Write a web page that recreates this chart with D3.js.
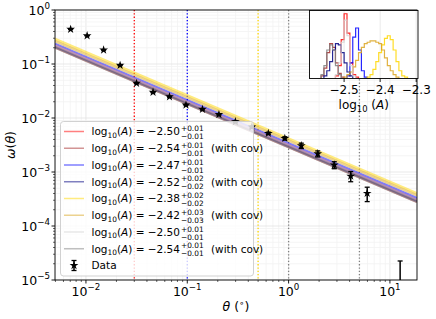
<!DOCTYPE html>
<html><head><meta charset="utf-8">
<script src="https://cdn.jsdelivr.net/npm/d3@7"></script>
<style>body{margin:0;background:#fff}svg{display:block;font-family:"DejaVu Sans",sans-serif}</style>
</head><body><svg id="c" width="436" height="319"></svg>
<script>
// ---------- data ----------
const theta = [0.00706, 0.01027, 0.01494, 0.02173, 0.03158, 0.04592, 0.06677, 0.0971, 0.1412, 0.2053,
  0.2985, 0.434, 0.6312, 0.918, 1.334, 1.94, 2.822, 4.103, 5.966, 8.675, 12.61];
const omega = [0.44, 0.334, 0.182, 0.0946, 0.044, 0.030, 0.0248, 0.0174, 0.0145, 0.0116,
  0.00853, 0.0068, 0.0052, 0.0042, 0.00307, 0.00218, 0.00135, 0.00084, 0.000403, -0.00012, -0.00001];
const omegaErr = [0.002, 0.002, 0.0015, 0.001, 0.0008, 0.0006, 0.0005, 0.0004, 0.0004, 0.0003,
  0.0003, 0.0003, 0.00025, 0.0003, 0.00035, 0.00028, 0.0002, 0.00018, 0.00012, 0.00008, 0.0000325];

const fitLogA = [-2.50, -2.54, -2.47, -2.52, -2.38, -2.42, -2.50, -2.54];
const fitLabel = ["−2.50", "−2.54", "−2.47", "−2.52", "−2.38", "−2.42", "−2.50", "−2.54"];
const fitErrUp = ["+0.01", "+0.01", "+0.01", "+0.02", "+0.02", "+0.03", "+0.01", "+0.01"];
const fitErrDn = ["−0.01", "−0.01", "−0.01", "−0.02", "−0.02", "−0.03", "−0.01", "−0.01"];
const fitCov = [false, true, false, true, false, true, false, true];
const fitColor = ["red", "brown", "blue", "navy", "gold", "goldenrod", "lightgray", "gray"];
const powerSlope = -0.8;

const cutTheta = [0.03, 0.1, 0.5, 1, 5];
const cutColor = ["red", "blue", "gold", "gray", "gray"];

const xTickExp = ["−2", "−1", "0", "1"];
const xTickVal = [1e-2, 1e-1, 1, 10];
const yTickExp = ["0", "−1", "−2", "−3", "−4", "−5"];
const yTickVal = [1, 1e-1, 1e-2, 1e-3, 1e-4, 1e-5];

// inset histograms (bin edges: binStart + k*binWidth)
const binStart = -2.596, binWidth = 0.008;
const histFirstBin = [9, 4, 13, 5, 20, 12, 9, 4];
const histCounts = [
  [2, 10, 30, 50, 35, 12, 3, 1],
  [2, 8, 20, 27, 24, 12, 4, 1],
  [2, 12, 32, 39, 22, 6, 1],
  [2, 6, 13, 22, 27, 26, 20, 12, 5, 2],
  [1, 3, 7, 13, 20, 26, 31, 33, 30, 22, 13, 6, 2, 1],
  [1, 3, 5, 9, 14, 20, 24, 27, 28, 29, 29, 28, 27, 22, 16, 10, 6, 3, 1],
  [3, 12, 28, 45, 33, 10, 2],
  [3, 10, 22, 26, 22, 10, 3]
];
const insetTicks = [-2.5, -2.4, -2.3];
const insetTickLabels = ["−2.5", "−2.4", "−2.3"];

// ---------- chart ----------
const svg = d3.select("#c");
const P = {l: 55, r: 417, t: 10, b: 280};
const x = d3.scaleLog().domain([0.00495, 18.5]).range([P.l, P.r]);
const y = d3.scaleLog().domain([1e-5, 1]).range([P.b, P.t]);

svg.append("rect").attr("width", 436).attr("height", 319).attr("fill", "#fff");
svg.append("defs").append("clipPath").attr("id", "clip")
  .append("rect").attr("x", P.l).attr("y", P.t).attr("width", P.r - P.l).attr("height", P.b - P.t);

const grid = svg.append("g");
const xt = x.ticks(), yt = y.ticks();
const isMajor = v => Math.abs(Math.log10(v) - Math.round(Math.log10(v))) < 1e-6;
xt.forEach(v => grid.append("line").attr("x1", x(v)).attr("x2", x(v)).attr("y1", P.t).attr("y2", P.b)
  .attr("stroke", isMajor(v) ? "#e3e3e3" : "#f3f3f3").attr("stroke-width", 0.8));
yt.forEach(v => grid.append("line").attr("y1", y(v)).attr("y2", y(v)).attr("x1", P.l).attr("x2", P.r)
  .attr("stroke", isMajor(v) ? "#e3e3e3" : "#f3f3f3").attr("stroke-width", 0.8));

const plot = svg.append("g").attr("clip-path", "url(#clip)");

// vertical cut lines
cutTheta.forEach((t, i) => plot.append("line").attr("x1", x(t)).attr("x2", x(t)).attr("y1", P.t).attr("y2", P.b)
  .attr("stroke", cutColor[i]).attr("stroke-width", 1.3).attr("stroke-dasharray", "1.3,2"));

// fit lines
const lineGen = d3.line().x(d => x(d[0])).y(d => y(d[1]));
fitLogA.forEach((a, i) => {
  const dom = x.domain();
  const pts = dom.map(t => [t, Math.pow(10, a) * Math.pow(t, powerSlope)]);
  plot.append("path").attr("d", lineGen(pts)).attr("fill", "none")
    .attr("stroke", fitColor[i]).attr("stroke-opacity", 0.5).attr("stroke-width", 2.4);
});

// data with error bars
const star = d3.symbol(d3.symbolStar).size(24);
theta.forEach((t, i) => {
  const v = omega[i], e = omegaErr[i];
  const hi = v + e, lo = v - e;
  if (hi > 0) {
    const yHi = y(hi), yLo = lo > 0 ? y(lo) : P.b + 5;
    plot.append("line").attr("x1", x(t)).attr("x2", x(t)).attr("y1", yHi).attr("y2", yLo)
      .attr("stroke", "#000").attr("stroke-width", 1.5);
    plot.append("line").attr("x1", x(t) - 2.5).attr("x2", x(t) + 2.5).attr("y1", yHi).attr("y2", yHi)
      .attr("stroke", "#000").attr("stroke-width", 1.3);
    if (lo > 0) plot.append("line").attr("x1", x(t) - 2.5).attr("x2", x(t) + 2.5).attr("y1", yLo).attr("y2", yLo)
      .attr("stroke", "#000").attr("stroke-width", 1.3);
  }
  if (v > 0) plot.append("path").attr("d", star).attr("transform", `translate(${x(t)},${y(v)})`).attr("fill", "#000");
});

// frame
svg.append("rect").attr("x", P.l).attr("y", P.t).attr("width", P.r - P.l).attr("height", P.b - P.t)
  .attr("fill", "none").attr("stroke", "#000").attr("stroke-width", 0.9);

// ticks
const ax = svg.append("g").attr("stroke", "#000");
xt.forEach(v => { const L = isMajor(v) ? 3.5 : 2; ax.append("line").attr("x1", x(v)).attr("x2", x(v)).attr("y1", P.b).attr("y2", P.b + L).attr("stroke-width", isMajor(v) ? 0.9 : 0.6); });
yt.forEach(v => { const L = isMajor(v) ? 3.5 : 2; ax.append("line").attr("y1", y(v)).attr("y2", y(v)).attr("x1", P.l).attr("x2", P.l - L).attr("stroke-width", isMajor(v) ? 0.9 : 0.6); });

xTickVal.forEach((v, i) => {
  const t = svg.append("text").attr("x", x(v)).attr("y", 296).attr("text-anchor", "middle").attr("font-size", 12.5);
  t.append("tspan").text("10");
  t.append("tspan").attr("dy", -6).attr("font-size", 8.7).text(xTickExp[i]);
});
yTickVal.forEach((v, i) => {
  const t = svg.append("text").attr("x", P.l - 5).attr("y", y(v) + 4.5).attr("text-anchor", "end").attr("font-size", 12.5);
  t.append("tspan").text("10");
  t.append("tspan").attr("dy", -6).attr("font-size", 8.7).text(yTickExp[i]);
});

// axis labels
const xl = svg.append("text").attr("x", (P.l + P.r) / 2).attr("y", 311).attr("text-anchor", "middle").attr("font-size", 12.5);
xl.append("tspan").attr("font-style", "italic").text("θ");
xl.append("tspan").text(" (");
xl.append("tspan").attr("dy", -5).attr("font-size", 8.7).text("∘");
xl.append("tspan").attr("dy", 5).text(")");
const yl = svg.append("text").attr("transform", `translate(15,${(P.t + P.b) / 2}) rotate(-90)`).attr("text-anchor", "middle").attr("font-size", 12.5);
yl.append("tspan").attr("font-style", "italic").text("ω");
yl.append("tspan").text("(");
yl.append("tspan").attr("font-style", "italic").text("θ");
yl.append("tspan").text(")");

// legend
const lg = svg.append("g");
lg.append("rect").attr("x", 60.5).attr("y", 121.5).attr("width", 193).attr("height", 154.5).attr("rx", 3)
  .attr("fill", "#fff").attr("fill-opacity", 0.8).attr("stroke", "#ccc").attr("stroke-width", 0.9);
const rowY = i => 131.5 + 16.75 * i;
fitLogA.forEach((a, i) => {
  const ry = rowY(i);
  lg.append("line").attr("x1", 64).attr("x2", 84).attr("y1", ry).attr("y2", ry)
    .attr("stroke", fitColor[i]).attr("stroke-opacity", 0.5).attr("stroke-width", 1.5);
  const t = lg.append("text").attr("x", 91.5).attr("y", ry + 3.8).attr("font-size", 10.5);
  t.append("tspan").text("log");
  t.append("tspan").attr("dy", 2.5).attr("font-size", 7.4).text("10");
  t.append("tspan").attr("dy", -2.5).text("(");
  t.append("tspan").attr("font-style", "italic").text("A");
  t.append("tspan").text(") = " + fitLabel[i]);
  const w = t.node().getComputedTextLength();
  const sx = 91.5 + w + 1;
  lg.append("text").attr("x", sx).attr("y", ry - 0.5).attr("font-size", 7.4).text(fitErrUp[i]);
  lg.append("text").attr("x", sx).attr("y", ry + 7.5).attr("font-size", 7.4).text(fitErrDn[i]);
  if (fitCov[i]) lg.append("text").attr("x", sx + 30).attr("y", ry + 3.8).attr("font-size", 10.5).text("(with cov)");
});
{
  const ry = rowY(8), cx = 74;
  lg.append("line").attr("x1", cx).attr("x2", cx).attr("y1", ry - 5).attr("y2", ry + 5).attr("stroke", "#000").attr("stroke-width", 1.5);
  lg.append("line").attr("x1", cx - 2.5).attr("x2", cx + 2.5).attr("y1", ry - 5).attr("y2", ry - 5).attr("stroke", "#000").attr("stroke-width", 1.3);
  lg.append("line").attr("x1", cx - 2.5).attr("x2", cx + 2.5).attr("y1", ry + 5).attr("y2", ry + 5).attr("stroke", "#000").attr("stroke-width", 1.3);
  lg.append("path").attr("d", star).attr("transform", `translate(${cx},${ry})`).attr("fill", "#000");
  lg.append("text").attr("x", 91.5).attr("y", ry + 3.8).attr("font-size", 10.5).text("Data");
}

// inset
const I = {l: 309.5, r: 418, t: 10.5, b: 78.5};
const ix = d3.scaleLinear().domain([-2.596, -2.295]).range([I.l, I.r]);
const iy = d3.scaleLinear().domain([0, 52.5]).range([I.b, I.t]);
const ins = svg.append("g");
ins.append("rect").attr("x", I.l).attr("y", I.t).attr("width", I.r - I.l).attr("height", I.b - I.t).attr("fill", "#fff");
insetTicks.forEach(v => ins.append("line").attr("x1", ix(v)).attr("x2", ix(v)).attr("y1", I.t).attr("y2", I.b).attr("stroke", "#e3e3e3").attr("stroke-width", 0.8));
ins.append("defs").append("clipPath").attr("id", "iclip").append("rect").attr("x", I.l).attr("y", I.t).attr("width", I.r - I.l).attr("height", I.b - I.t);
const ih = ins.append("g").attr("clip-path", "url(#iclip)");
histCounts.forEach((cs, s) => {
  const k0 = histFirstBin[s];
  let d = `M${ix(binStart + k0 * binWidth)},${iy(0)}`;
  cs.forEach((c, j) => {
    const e0 = binStart + (k0 + j) * binWidth, e1 = e0 + binWidth;
    d += `L${ix(e0)},${iy(c)}L${ix(e1)},${iy(c)}`;
  });
  d += `L${ix(binStart + (k0 + cs.length) * binWidth)},${iy(0)}`;
  ih.append("path").attr("d", d).attr("fill", "none").attr("stroke", fitColor[s]).attr("stroke-width", 1.2).attr("stroke-opacity", 0.85);
});
ins.append("rect").attr("x", I.l).attr("y", I.t).attr("width", I.r - I.l).attr("height", I.b - I.t)
  .attr("fill", "none").attr("stroke", "#000").attr("stroke-width", 0.9);
insetTicks.forEach((v, i) => {
  ins.append("line").attr("x1", ix(v)).attr("x2", ix(v)).attr("y1", I.b).attr("y2", I.b + 3.5).attr("stroke", "#000").attr("stroke-width", 0.9);
  ins.append("text").attr("x", ix(v)).attr("y", 94).attr("text-anchor", "middle").attr("font-size", 12).text(insetTickLabels[i]);
});
const il = ins.append("text").attr("x", (I.l + I.r) / 2).attr("y", 109).attr("text-anchor", "middle").attr("font-size", 12);
il.append("tspan").text("log");
il.append("tspan").attr("dy", 3).attr("font-size", 8.4).text("10");
il.append("tspan").attr("dy", -3).text(" (");
il.append("tspan").attr("font-style", "italic").text("A");
il.append("tspan").text(")");
</script></body></html>
